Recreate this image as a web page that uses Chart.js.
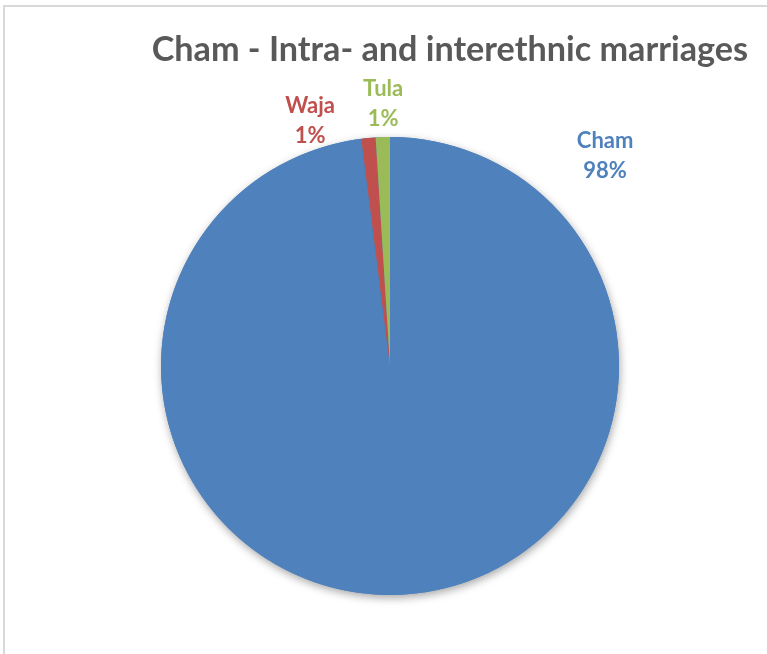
<!DOCTYPE html>
<html>
<head>
<meta charset="utf-8">
<script src="https://cdn.jsdelivr.net/npm/chart.js@4"></script>
<style>
  html, body { margin: 0; padding: 0; background: #fff; }
  #wrap { position: relative; width: 767px; height: 654px; }
  #frame { position: absolute; left: 3px; top: 5px; right: 0; bottom: 0;
           border-top: 2px solid #d9d9d9; border-left: 2px solid #d9d9d9; }
  canvas { position: absolute; left: 0; top: 0; }
</style>
</head>
<body>
<div id="wrap">
  <div id="frame"></div>
  <canvas id="myPie" width="767" height="654"></canvas>
</div>
<script>
// Data
var categories = ["Cham", "Waja", "Tula"];
var shares = [98, 1, 1];
var colors = ["#4F81BD", "#C0504D", "#9BBB59"];

// where the labels sit: angle from top (deg) and distance in radii
var labelAngle = [45.5, -18, -1.5];
var labelDist = [1.317, 1.13, 1.147];

var titleText = "Cham - Intra- and interethnic marriages";
var fontFam = "Lato, 'Liberation Sans', sans-serif";

// size the title so it is as wide as in the picture
var probe = document.createElement('canvas').getContext('2d');
probe.font = "bold 100px " + fontFam;
var titleSize = Math.round(100 * 596 / probe.measureText(titleText).width * 10) / 10;

// soft shadow under the pie
var pieShadow = {
  id: 'pieShadow',
  beforeDatasetsDraw: function (chart) {
    var arc = chart.getDatasetMeta(0).data[0];
    if (!arc) return;
    var ctx = chart.ctx;
    ctx.save();
    ctx.shadowColor = 'rgba(0,0,0,0.35)';
    ctx.shadowBlur = 9;
    ctx.shadowOffsetX = 1;
    ctx.shadowOffsetY = 3;
    ctx.fillStyle = '#4F81BD';
    ctx.beginPath();
    ctx.arc(arc.x, arc.y, arc.outerRadius, 0, Math.PI * 2);
    ctx.fill();
    ctx.restore();
  }
};

// labels outside the pie
var outLabels = {
  id: 'outLabels',
  afterDatasetsDraw: function (chart) {
    var ctx = chart.ctx;
    var meta = chart.getDatasetMeta(0);
    var total = shares.reduce(function (a, b) { return a + b; }, 0);
    var size = 22;
    ctx.save();
    ctx.font = "bold " + size + "px " + fontFam;
    ctx.textAlign = 'center';
    ctx.textBaseline = 'alphabetic';
    meta.data.forEach(function (arc, i) {
      var a = labelAngle[i] * Math.PI / 180;
      var d = labelDist[i] * arc.outerRadius;
      var cx = arc.x + d * Math.sin(a);
      var cy = arc.y - d * Math.cos(a);
      var cap = size * 0.72;
      ctx.fillStyle = colors[i];
      ctx.fillText(categories[i], cx, cy - 15 + cap / 2);
      ctx.fillText(Math.round(shares[i] / total * 100) + '%', cx, cy + 15 + cap / 2);
    });
    ctx.restore();
  }
};

var ctx = document.getElementById('myPie').getContext('2d');
var myPie = new Chart(ctx, {
  type: 'pie',
  data: {
    labels: categories,
    datasets: [{
      data: shares,
      backgroundColor: colors,
      borderWidth: 0
    }]
  },
  options: {
    responsive: false,
    animation: false,
    layout: {
      padding: { left: 32, right: 19, top: 0, bottom: 59 }
    },
    plugins: {
      legend: { display: false },
      tooltip: { enabled: false },
      title: {
        display: true,
        text: titleText,
        align: 'end',
        color: '#595959',
        font: { family: fontFam, size: titleSize, weight: 'bold', lineHeight: 1.2 },
        padding: { top: 50 - titleSize * 0.6, bottom: 137 - (50 + titleSize * 0.6) }
      }
    }
  },
  plugins: [pieShadow, outLabels]
});
</script>
</body>
</html>
